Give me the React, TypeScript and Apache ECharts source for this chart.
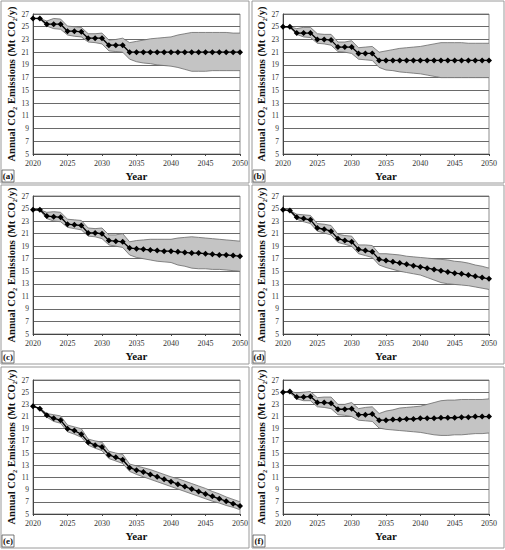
import React, { useEffect, useRef } from 'react';
import * as echarts from 'echarts';

const years = [
  '2020', '2021', '2022', '2023', '2024', '2025', '2026', '2027', '2028', '2029', '2030',
  '2031', '2032', '2033', '2034', '2035', '2036', '2037', '2038', '2039', '2040',
  '2041', '2042', '2043', '2044', '2045', '2046', '2047', '2048', '2049', '2050',
];
const yTicks = [5, 7, 9, 11, 13, 15, 17, 19, 21, 23, 25, 27];
const panelLabels = ['(a)', '(b)', '(c)', '(d)', '(e)', '(f)'];

// (a)
const centralA = [26.3, 26.3, 25.4, 25.4, 25.4, 24.3, 24.3, 24.2, 23.2, 23.2, 23.2, 22.1, 22.1, 22.1, 21.0, 21.0, 21.0, 21.0, 21.0, 21.0, 21.0, 21.0, 21.0, 21.0, 21.0, 21.0, 21.0, 21.0, 21.0, 21.0, 21.0];
const upperA = [26.3, 26.3, 25.9, 26.3, 26.2, 25.1, 25.0, 24.9, 23.9, 23.9, 24.0, 22.9, 23.0, 23.2, 22.5, 22.7, 22.9, 23.1, 23.2, 23.3, 23.4, 23.7, 23.9, 24.1, 24.1, 24.1, 24.1, 24.1, 24.1, 24.0, 24.0];
const lowerA = [26.3, 26.2, 25.1, 24.7, 24.6, 23.7, 23.5, 23.4, 22.6, 22.5, 22.3, 21.2, 21.1, 21.0, 19.9, 19.5, 19.3, 19.2, 19.0, 18.9, 18.8, 18.6, 18.3, 18.0, 18.0, 18.0, 18.1, 18.1, 18.1, 18.1, 18.1];

// (b)
const centralB = [25.0, 25.0, 24.0, 24.0, 24.0, 23.0, 23.0, 22.9, 21.8, 21.8, 21.8, 20.8, 20.8, 20.8, 19.7, 19.7, 19.7, 19.7, 19.7, 19.7, 19.7, 19.7, 19.7, 19.7, 19.7, 19.7, 19.7, 19.7, 19.7, 19.7, 19.7];
const upperB = [25.0, 25.0, 24.7, 24.9, 24.9, 23.9, 23.8, 23.8, 22.6, 22.6, 22.8, 21.7, 21.8, 21.9, 21.0, 21.2, 21.4, 21.6, 21.7, 21.8, 21.9, 22.1, 22.3, 22.5, 22.5, 22.5, 22.5, 22.4, 22.4, 22.4, 22.4];
const lowerB = [25.0, 24.9, 23.8, 23.4, 23.3, 22.4, 22.3, 22.1, 21.1, 21.0, 20.8, 19.9, 19.8, 19.7, 18.6, 18.2, 18.1, 17.9, 17.8, 17.7, 17.6, 17.4, 17.2, 17.0, 17.0, 17.0, 17.0, 17.0, 17.0, 17.0, 17.0];

// (c)
const centralC = [24.8, 24.8, 23.8, 23.7, 23.6, 22.5, 22.4, 22.3, 21.1, 21.1, 21.0, 19.9, 19.8, 19.7, 18.7, 18.6, 18.5, 18.4, 18.3, 18.2, 18.2, 18.1, 18.0, 17.9, 17.9, 17.8, 17.7, 17.6, 17.6, 17.5, 17.4];
const upperC = [24.8, 24.8, 24.4, 24.5, 24.4, 23.3, 23.2, 23.1, 21.9, 21.8, 21.9, 20.8, 20.8, 21.0, 19.7, 19.9, 20.0, 20.1, 20.1, 20.1, 20.1, 20.3, 20.4, 20.5, 20.4, 20.3, 20.2, 20.1, 20.0, 19.9, 19.8];
const lowerC = [24.8, 24.7, 23.4, 23.0, 22.9, 22.0, 21.8, 21.6, 20.6, 20.5, 20.2, 19.2, 19.0, 18.8, 17.6, 17.2, 17.0, 16.8, 16.6, 16.5, 16.4, 16.0, 15.8, 15.5, 15.4, 15.4, 15.3, 15.3, 15.2, 15.1, 15.0];

// (d)
const centralD = [24.8, 24.7, 23.6, 23.4, 23.2, 21.9, 21.7, 21.4, 20.2, 19.9, 19.7, 18.5, 18.3, 18.1, 16.9, 16.7, 16.5, 16.3, 16.1, 15.9, 15.7, 15.5, 15.3, 15.1, 14.9, 14.7, 14.6, 14.4, 14.2, 14.0, 13.8];
const upperD = [24.8, 24.7, 24.1, 24.0, 23.9, 22.6, 22.5, 22.3, 20.9, 20.7, 20.6, 19.2, 19.2, 19.1, 17.8, 17.8, 17.7, 17.6, 17.4, 17.3, 17.2, 17.1, 17.0, 16.9, 16.8, 16.6, 16.5, 16.3, 16.0, 15.8, 15.5];
const lowerD = [24.8, 24.6, 23.3, 22.9, 22.6, 21.4, 21.1, 20.8, 19.6, 19.3, 19.0, 17.8, 17.5, 17.2, 16.0, 15.6, 15.3, 15.0, 14.8, 14.6, 14.4, 14.0, 13.6, 13.2, 13.0, 12.9, 12.8, 12.7, 12.5, 12.3, 12.1];

// (e)
const centralE = [22.7, 22.3, 21.2, 20.7, 20.4, 19.0, 18.7, 18.1, 16.8, 16.3, 16.0, 14.7, 14.3, 13.9, 12.6, 12.2, 11.9, 11.5, 11.1, 10.7, 10.3, 9.9, 9.5, 9.1, 8.7, 8.3, 7.9, 7.5, 7.1, 6.7, 6.3];
const upperE = [22.7, 22.4, 21.5, 21.3, 21.1, 19.6, 19.3, 19.0, 17.3, 17.0, 16.8, 15.3, 15.0, 14.8, 13.2, 12.9, 12.6, 12.3, 11.9, 11.5, 11.1, 10.8, 10.4, 10.0, 9.6, 9.2, 8.7, 8.3, 7.8, 7.4, 7.0];
const lowerE = [22.7, 22.2, 20.9, 20.2, 19.9, 18.5, 18.1, 17.6, 16.3, 15.8, 15.4, 14.1, 13.7, 13.3, 12.0, 11.5, 11.1, 10.7, 10.3, 9.9, 9.5, 9.1, 8.7, 8.3, 7.9, 7.5, 7.1, 6.8, 6.4, 6.1, 5.7];

// (f)
const centralF = [25.0, 25.1, 24.2, 24.2, 24.3, 23.3, 23.3, 23.2, 22.2, 22.2, 22.3, 21.3, 21.3, 21.4, 20.4, 20.4, 20.5, 20.5, 20.6, 20.6, 20.7, 20.7, 20.7, 20.8, 20.8, 20.8, 20.9, 20.9, 21.0, 21.0, 21.0];
const upperF = [25.0, 25.1, 24.9, 25.0, 25.1, 24.1, 24.2, 24.2, 23.0, 23.0, 23.3, 22.3, 22.5, 22.6, 21.5, 21.9, 22.1, 22.4, 22.5, 22.6, 22.7, 23.0, 23.3, 23.6, 23.7, 23.7, 23.8, 23.8, 23.8, 23.8, 23.9];
const lowerF = [25.0, 24.9, 23.9, 23.6, 23.6, 22.6, 22.5, 22.3, 21.3, 21.2, 21.0, 20.4, 20.3, 20.2, 19.1, 18.9, 18.8, 18.7, 18.6, 18.5, 18.4, 18.2, 18.0, 17.9, 17.9, 18.0, 18.0, 18.1, 18.2, 18.2, 18.3];

const panels = [
  { central: centralA, upper: upperA, lower: lowerA },
  { central: centralB, upper: upperB, lower: lowerB },
  { central: centralC, upper: upperC, lower: lowerC },
  { central: centralD, upper: upperD, lower: lowerD },
  { central: centralE, upper: upperE, lower: lowerE },
  { central: centralF, upper: upperF, lower: lowerF },
];

const FONT = '"Liberation Serif", "Times New Roman", serif';
const yTitle = 'Annual CO\u2082 Emissions (Mt CO\u2082/y)';

// layout of the 3x2 panels
const colBox = [{ x: 1, w: 248 }, { x: 252, w: 252 }];
const rowBox = [{ y: 1, h: 182 }, { y: 185, h: 179 }, { y: 367, h: 181 }];
const gridCols = [{ left: 33, width: 207 }, { left: 283, width: 206 }];
const gridRows = [{ top: 14, height: 140 }, { top: 196, height: 138 }, { top: 380, height: 134 }];

const App: React.FC = () => {
  const chartRef = useRef<HTMLDivElement>(null);

  useEffect(() => {
    if (!chartRef.current) return;
    const chart = echarts.init(chartRef.current, undefined, { renderer: 'svg' });

    const grid: any[] = [];
    const xAxis: any[] = [];
    const yAxis: any[] = [];
    const series: any[] = [];
    const graphic: any[] = [];

    panels.forEach((p, i) => {
      const col = i % 2;
      const row = Math.floor(i / 2);
      grid.push({
        left: gridCols[col].left,
        width: gridCols[col].width,
        top: gridRows[row].top,
        height: gridRows[row].height,
        show: true,
        borderColor: '#8c8c8c',
        borderWidth: 1,
      });
      xAxis.push({
        type: 'category',
        gridIndex: i,
        data: years,
        boundaryGap: false,
        name: 'Year',
        nameLocation: 'middle',
        nameGap: 16,
        nameTextStyle: { fontFamily: FONT, fontWeight: 'bold', fontSize: 11, color: '#111' },
        axisLine: { lineStyle: { color: '#444', width: 1 } },
        axisTick: { show: true, length: 2, interval: 4, lineStyle: { color: '#444' } },
        axisLabel: { interval: 4, fontFamily: FONT, fontSize: 8, color: '#333', margin: 5 },
        splitLine: { show: false },
      });
      yAxis.push({
        type: 'value',
        gridIndex: i,
        min: 5,
        max: 27,
        interval: 1,
        name: yTitle,
        nameLocation: 'middle',
        nameGap: 16,
        nameRotate: 90,
        nameTextStyle: { fontFamily: FONT, fontWeight: 'bold', fontSize: 10.5, color: '#111' },
        axisLine: { show: true, lineStyle: { color: '#444', width: 1 } },
        axisTick: { show: false },
        axisLabel: {
          fontFamily: FONT,
          fontSize: 7.5,
          color: '#333',
          margin: 4,
          formatter: (v: number) => (yTicks.includes(v) ? String(v) : ''),
        },
        splitLine: { show: true, lineStyle: { color: ['#6a6a6a', 'transparent'], width: 1 } },
      });

      const stack = 'band' + i;
      series.push({
        type: 'line',
        xAxisIndex: i,
        yAxisIndex: i,
        stack,
        symbol: 'none',
        data: p.lower,
        lineStyle: { color: '#6a6a6a', width: 0.8 },
        z: 2,
        silent: true,
      });
      series.push({
        type: 'line',
        xAxisIndex: i,
        yAxisIndex: i,
        stack,
        symbol: 'none',
        data: p.upper.map((u, k) => +(u - p.lower[k]).toFixed(2)),
        lineStyle: { color: '#6a6a6a', width: 0.8 },
        areaStyle: { color: '#c4c4c4', opacity: 1 },
        z: 1,
        silent: true,
      });
      series.push({
        type: 'line',
        xAxisIndex: i,
        yAxisIndex: i,
        symbol: 'diamond',
        symbolSize: 6,
        showAllSymbol: true,
        data: p.central,
        lineStyle: { color: '#000', width: 1.3 },
        itemStyle: { color: '#000' },
        z: 3,
      });

      const bx = colBox[col].x;
      const by = rowBox[row].y;
      const bh = rowBox[row].h;
      graphic.push({
        type: 'rect',
        shape: { x: bx, y: by, width: colBox[col].w, height: bh },
        style: { fill: 'none', stroke: '#9a9a9a', lineWidth: 1 },
        silent: true,
      });
      graphic.push({
        type: 'rect',
        shape: { x: bx + 1, y: by + bh - 13, width: 12, height: 12 },
        style: { fill: '#fff', stroke: '#555', lineWidth: 0.8 },
        silent: true,
      });
      graphic.push({
        type: 'text',
        x: bx + 7,
        y: by + bh - 7,
        style: {
          text: panelLabels[i],
          fontFamily: FONT,
          fontWeight: 'bold',
          fontSize: 9,
          fill: '#111',
          align: 'center',
          verticalAlign: 'middle',
        },
        silent: true,
      });
    });

    chart.setOption({
      animation: false,
      backgroundColor: '#fff',
      grid,
      xAxis,
      yAxis,
      series,
      graphic,
    });

    return () => {
      chart.dispose();
    };
  }, []);

  return (
    <div
      ref={chartRef}
      style={{ position: 'fixed', left: 0, top: 0, width: '505px', height: '550px' }}
      role="img"
      aria-label="Annual CO2 emissions scenarios"
    />
  );
};

export default App;
